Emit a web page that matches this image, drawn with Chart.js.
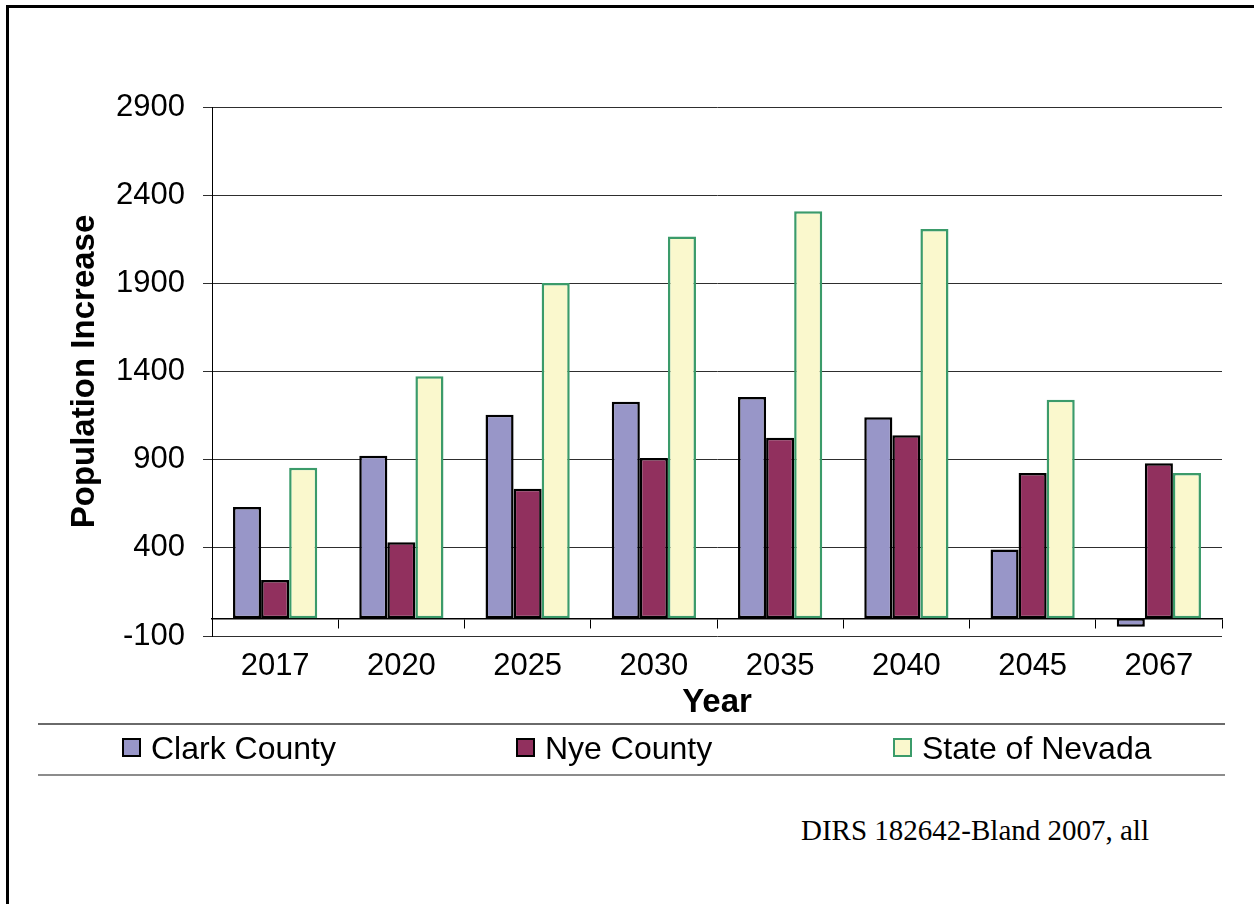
<!DOCTYPE html>
<html>
<head>
<meta charset="utf-8">
<title>Population Increase</title>
<script src="https://cdn.jsdelivr.net/npm/chart.js@4.4.1/dist/chart.umd.min.js"></script>
<style>
  html, body { margin: 0; padding: 0; background: #fff; }
  body { width: 1254px; height: 904px; position: relative; overflow: hidden; font-family: Arial, "Liberation Sans", sans-serif; }
  #frame { position: absolute; left: 6px; top: 5px; width: 1300px; height: 950px; border-left: 3px solid #000; border-top: 3px solid #000; }
  #chart { position: absolute; left: 0; top: 0; }
  #legend { position: absolute; left: 38px; top: 723px; width: 1187px; height: 49px; border-top: 2px solid #6a6a6a; border-bottom: 2px solid #8c8c8c; }
  .item { position: absolute; top: 0; height: 49px; line-height: 46px; font-size: 32px; color: #000; white-space: nowrap; }
  .item .box { position: absolute; left: 0; top: 13px; width: 15px; height: 15px; border: 2px solid #000; }
  .item .lbl { position: absolute; left: 29px; top: 0; }
  #note { position: absolute; right: 105px; top: 814px; font-family: "Times New Roman", "Liberation Serif", serif; font-size: 29px; color: #000; }
</style>
</head>
<body>
<div id="frame"></div>
<canvas id="chart" width="1254" height="724"></canvas>
<div id="legend"></div>
<div id="note">DIRS 182642-Bland 2007, all</div>
<script>
// data
const years = ['2017', '2020', '2025', '2030', '2035', '2040', '2045', '2067'];
const clarkCounty = [632, 922, 1155, 1228, 1255, 1140, 390, -47];
const nyeCounty = [217, 432, 735, 909, 1025, 1038, 824, 880];
const stateOfNevada = [854, 1373, 1902, 2166, 2309, 2208, 1240, 824];
const yTicks = [-100, 400, 900, 1400, 1900, 2400, 2900];

const seriesNames = ['Clark County', 'Nye County', 'State of Nevada'];
const fills = ['#9896c8', '#91305e', '#faf8cd'];
const edges = ['#000000', '#000000', '#3b9b6a'];

const font = 'Arial, "Liberation Sans", sans-serif';

const datasets = [clarkCounty, nyeCounty, stateOfNevada].map((d, i) => ({
    label: seriesNames[i],
    data: d,
    backgroundColor: fills[i],
    borderColor: edges[i],
    borderWidth: 2.5,
    borderSkipped: false,
    categoryPercentage: 0.667,
    barPercentage: 1.0
}));

new Chart(document.getElementById('chart').getContext('2d'), {
    type: 'bar',
    data: { labels: years, datasets: datasets },
    options: {
        responsive: false,
        animation: false,
        devicePixelRatio: 1,
        layout: { padding: { top: 107, right: 32, left: 0, bottom: 0 } },
        plugins: {
            legend: { display: false },
            tooltip: { enabled: false }
        },
        scales: {
            x: {
                type: 'category',
                position: 'bottom',
                offset: true,
                grid: { display: false, drawTicks: false },
                border: { display: false },
                ticks: { color: '#000', padding: 12, font: { family: font, size: 31 } },
                title: {
                    display: true,
                    text: 'Year',
                    color: '#000',
                    font: { family: font, size: 33, weight: 'bold' },
                    padding: { top: 0, bottom: 1 }
                },
                afterFit: s => { s.height = 88; }
            },
            // category axis line drawn at zero, with its tick marks
            x0: {
                type: 'category',
                position: { y: 0 },
                offset: true,
                grid: { drawOnChartArea: false, drawTicks: true, tickLength: 9, color: '#000', lineWidth: 1, offset: true },
                border: { display: true, color: '#000', width: 1.5 },
                ticks: { display: false }
            },
            y: {
                min: -100,
                max: 2900,
                afterBuildTicks: s => { s.ticks = yTicks.map(v => ({ value: v })); },
                grid: { color: '#2e2e2e', lineWidth: 1, tickLength: 9, drawTicks: true },
                border: { display: true, color: '#000', width: 1 },
                ticks: {
                    color: '#000',
                    padding: 18,
                    font: { family: font, size: 31 },
                    callback: v => String(v)
                },
                title: {
                    display: true,
                    text: 'Population Increase',
                    color: '#000',
                    font: { family: font, size: 33, weight: 'bold' },
                    padding: { top: 65, bottom: 0 }
                },
                afterFit: s => { s.width = 212; }
            }
        }
    }
});

// legend below the chart, built from the series
const legendLeft = [84, 478, 855];
const legend = document.getElementById('legend');
seriesNames.forEach((name, i) => {
    const item = document.createElement('div');
    item.className = 'item';
    item.style.left = legendLeft[i] + 'px';
    item.innerHTML = '<span class="box"></span><span class="lbl"></span>';
    item.querySelector('.box').style.background = fills[i];
    item.querySelector('.box').style.borderColor = edges[i];
    item.querySelector('.lbl').textContent = name;
    legend.appendChild(item);
});
</script>
</body>
</html>
